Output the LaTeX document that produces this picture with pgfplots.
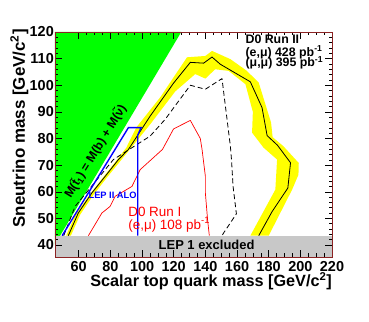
\documentclass[border=0pt]{standalone}
\usepackage{fontspec}
\setmainfont{Liberation Sans}
\usepackage{pgfplots}
\pgfplotsset{compat=1.18}
\definecolor{rgreen}{RGB}{0,255,0}
\definecolor{ryellow}{RGB}{255,255,0}
\definecolor{rgray}{RGB}{200,200,200}
\definecolor{frame}{RGB}{140,35,35}
\begin{document}
\begin{tikzpicture}
\path[use as bounding box] (-55bp,-65bp) rectangle (314bp,257bp);
\begin{axis}[
  at={(0,0)}, anchor=south west,
  width=277bp, height=225bp, scale only axis,
  xmin=45, xmax=220, ymin=35.5, ymax=120,
  xtick={60,80,...,220}, ytick={40,50,...,120},
  minor x tick num=3, minor y tick num=4,
  major tick length=7bp, minor tick length=3.5bp,
  axis on top, no markers,
  axis line style={draw=frame, line width=0.8bp},
  every tick/.style={black, line width=0.5bp},
  /pgf/number format/assume math mode=true,
  ticklabel style={font=\bfseries\fontsize{14.5}{16}\selectfont},
  yticklabel style={inner sep=1bp},
  xticklabel style={inner sep=1bp, yshift=-3.5bp},
  xlabel={Scalar top quark mass [GeV/c\textsuperscript{2}]},
  ylabel={Sneutrino mass [GeV/c\textsuperscript{2}]},
  label style={inner sep=0pt},
  xlabel style={font=\bfseries\fontsize{16.3}{18}\selectfont, at={(axis description cs:1,-0.1333)}, anchor=base east},
  ylabel style={font=\bfseries\fontsize{17}{19}\selectfont, at={(axis description cs:-0.0953,1.013)}, anchor=south east},
]
% kinematically forbidden region
\addplot[fill=rgreen, draw=none] coordinates {(45,40.25) (124.75,120) (45,120)} -- cycle;
% yellow band
\addplot[fill=ryellow, draw=none] coordinates {
 (52,43.5) (58,51.5) (67,59) (75.5,65.5) (83.5,71.5) (90,76.5) (96.3,84.1) (111.5,95.5)
 (128.4,110.5) (140,111) (144.2,112.9) (155.8,109.8) (166,105.5) (173.7,101) (181.5,86)
 (182.5,80.5) (189.3,77.1) (199,70.8) (198.8,66.4) (194.8,60.8) (180,43.5)
 (168.4,43.5) (184.2,60.8) (185.3,72.1) (176.7,76.6) (169.5,82.2) (170,90) (165.3,100.4)
 (154.7,105.4) (146.2,106) (140,102.5) (133.6,104.2) (121,97.7) (105.1,85.3) (86.1,71.4)
 (78,65.5) (69.5,59) (61,51.5) (55,43.5)} -- cycle;
% expected (dashed)
\addplot[black, line width=0.8bp, dash pattern=on 5bp off 3bp, line join=round] coordinates {
 (50.5,43.5) (57.7,54.5) (81.9,72.1) (105.1,80.9) (114.6,87.2) (130.5,100.0) (140,98.5)
 (150.5,102.5) (155.8,77.1) (156.5,72.1) (157.5,62.0) (159.6,51.7) (151.5,44.5) (150.5,43.5)};
% D0 Run I
\addplot[red, line width=0.7bp, line join=round] coordinates {
 (66.1,43.5) (74.6,52) (79.8,54.5) (83,58.3) (93.6,62.0) (98.8,68.3) (112.9,75.9) (119.9,83.6)
 (130.5,86.8) (136.8,80.0) (137.9,75.9) (140,65.8) (140,59.5) (141.4,49.5) (142.5,43.5)};
% D0 Run II observed
\addplot[black, line width=0.8bp, line join=round] coordinates {
 (53.4,43.5) (59.7,52.0) (68.2,59.5) (76.7,65.8) (85.1,72.1) (91.4,75.9) (105.1,88.4)
 (119.9,100.8) (130.5,108.6) (138.9,108.3) (144.2,110.6) (149.4,107.9) (168.4,101.3)
 (175.8,91.6) (179,81.1) (185.5,77.5) (193.8,70.9) (192.1,61.4) (182.2,52.6) (173.7,43.5)};
% LEP II ALO
\addplot[blue, line width=1.4bp, line join=miter] coordinates {
 (49.5,43.5) (91.4,84.1) (99.4,84.1) (97.3,81.3) (97.3,43.5)};
% LEP 1 excluded
\addplot[fill=rgray, draw=none] coordinates {(45,35.5) (220,35.5) (220,43.5) (45,43.5)} -- cycle;

\node[rotate=58.5, font=\bfseries\fontsize{12.3}{13}\selectfont, inner sep=0pt]
  at (axis cs:70.3,75.2) {M(\~{t}\textsubscript{1}) = M(b) + M(\~{ν})};
\node[anchor=base west, font=\bfseries\fontsize{9.3}{10}\selectfont, text=blue, inner sep=0pt]
  at (axis cs:66.1,57.6) {LEP II ALO};
\node[anchor=base west, font=\fontsize{13.5}{14}\selectfont, text=red, inner sep=0pt]
  at (axis cs:91.2,50.7) {D0 Run I};
\node[anchor=base west, font=\fontsize{13.5}{14}\selectfont, text=red, inner sep=0pt]
  at (axis cs:91.2,46) {(e,μ) 108 pb\textsuperscript{-1}};
\node[anchor=base west, font=\bfseries\fontsize{12.4}{13}\selectfont, inner sep=0pt]
  at (axis cs:165.3,115.5) {D0 Run II};
\node[anchor=base west, font=\bfseries\fontsize{12.4}{13}\selectfont, inner sep=0pt]
  at (axis cs:165.3,110.9) {(e,μ) 428 pb\textsuperscript{-1}};
\node[anchor=base west, font=\bfseries\fontsize{12.4}{13}\selectfont, inner sep=0pt]
  at (axis cs:165.3,107.0) {(μ,μ) 395 pb\textsuperscript{-1}};
\node[anchor=base west, font=\bfseries\fontsize{13}{14}\selectfont, inner sep=0pt]
  at (axis cs:110.4,38.2) {LEP 1 excluded};
\end{axis}
\end{tikzpicture}
\end{document}
